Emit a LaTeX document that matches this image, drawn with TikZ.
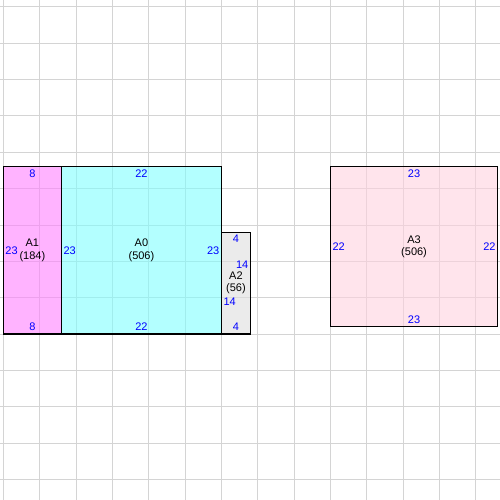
\documentclass[tikz,border=0pt]{standalone}
\usepackage{fontspec}
\setmainfont{Liberation Sans}
\usetikzlibrary{positioning}
\definecolor{a0col}{RGB}{128,255,255}
\definecolor{a1col}{RGB}{255,128,255}
\definecolor{a2col}{RGB}{222,222,222}
\definecolor{a3col}{RGB}{255,210,223}

\begin{document}
\begin{tikzpicture}
  [x=0.2cm, y=0.2cm,
   every node/.style = {font=\fontsize{8.6}{9.6}\selectfont},
   room/.style = {draw, line width=0.9pt, outer sep=0pt, align=center,
                  fill opacity=0.6, text opacity=1},
   side/.style = {text=blue, inner xsep=1.5pt, inner ysep=2.3pt}]
  \useasboundingbox (-0.45,-22.83) rectangle (68.3,45.94);
  \draw [black!17, line width=0.7pt, step=1cm] (-0.45,-22.83) grid (68.3,45.94);

  \node (a1) [room, fill=a1col, minimum width=1.6cm, minimum height=4.6cm,
              anchor=south west] at (0,0) {A1\\(184)};
  \node (a0) [room, fill=a0col, minimum width=4.4cm, minimum height=4.6cm,
              right=0pt of a1] {A0\\(506)};
  \node (a2) [room, fill=a2col, minimum width=0.8cm, minimum height=2.8cm,
              anchor=south west] at (a0.south east) {A2\\(56)};
  \node (a3) [room, fill=a3col, minimum width=4.6cm, minimum height=4.4cm,
              anchor=south west] at (45,1) {A3\\(506)};

  \node (a1top) [side, anchor=north] at (a1.north) {8};
  \node (a1bot) [side, anchor=south] at (a1.south) {8};
  \node (a1left) [side, anchor=west] at (a1.west) {23};

  \node (a0top) [side, anchor=north] at (a0.north) {22};
  \node (a0bot) [side, anchor=south] at (a0.south) {22};
  \node (a0left) [side, anchor=west] at (a0.west) {23};
  \node (a0right) [side, anchor=east] at (a0.east) {23};

  \node (a2top) [side, anchor=north] at (a2.north) {4};
  \node (a2bot) [side, anchor=south] at (a2.south) {4};
  \node (a2right) [side, anchor=east] at ([yshift=0.5cm]a2.east) {14};
  \node (a2left) [side, anchor=west] at ([yshift=-0.5cm]a2.west) {14};

  \node (a3top) [side, anchor=north] at (a3.north) {23};
  \node (a3bot) [side, anchor=south] at (a3.south) {23};
  \node (a3left) [side, anchor=west] at (a3.west) {22};
  \node (a3right) [side, anchor=east] at (a3.east) {22};
\end{tikzpicture}
\end{document}
